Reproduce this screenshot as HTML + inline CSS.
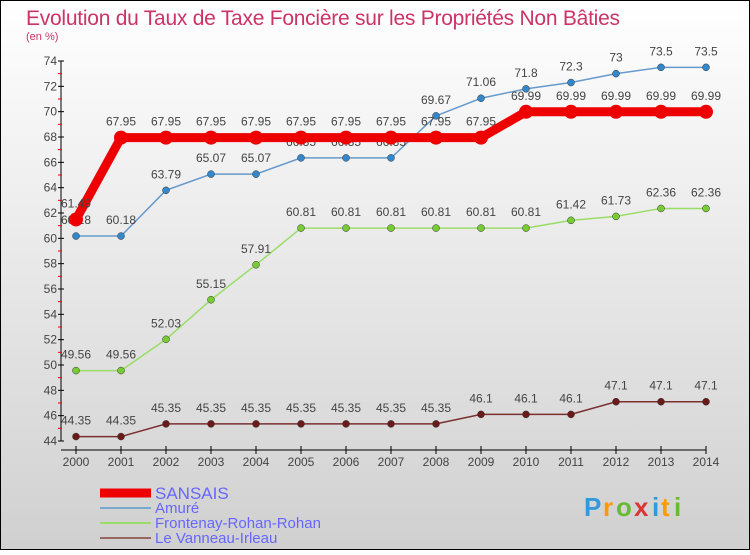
<!DOCTYPE html>
<html><head><meta charset="utf-8"><style>
body{margin:0}
#c{width:750px;height:550px;position:relative;font-family:"Liberation Sans",sans-serif;}
svg text{font-family:"Liberation Sans",sans-serif;}
</style></head><body>
<div id="c">
<svg id="s" width="750" height="550" xmlns="http://www.w3.org/2000/svg">
<defs><linearGradient id="bg" x1="0" y1="0" x2="0" y2="1"><stop offset="0" stop-color="#ffffff"/><stop offset="1" stop-color="#d0d0d0"/></linearGradient></defs>
<rect x="0.5" y="0.5" width="749" height="549" fill="url(#bg)" stroke="#000"/>
<text x="26" y="25" font-size="21" fill="#cc3366" textLength="594">Evolution du Taux de Taxe Foncière sur les Propriétés Non Bâties</text>
<text x="26" y="40" font-size="11" fill="#cc3366">(en %)</text>
<g id="axes"></g><g id="series"></g><g id="legend"></g>
<g font-size="26" font-weight="bold">
<text x="584" y="516" fill="#3399dd">P</text><text x="603" y="516" fill="#ff9900">r</text><text x="616" y="516" fill="#66bb33">o</text><text x="634" y="516" fill="#dd3333">x</text><text x="652" y="516" fill="#3399dd">i</text><text x="661" y="516" fill="#ff9900">t</text><text x="674" y="516" fill="#66bb33">i</text>
</g>
</svg></div>
<script>
const years=[2000,2001,2002,2003,2004,2005,2006,2007,2008,2009,2010,2011,2012,2013,2014];
const yTicks=[44,46,48,50,52,54,56,58,60,62,64,66,68,70,72,74];
const sansais=[61.49,67.95,67.95,67.95,67.95,67.95,67.95,67.95,67.95,67.95,69.99,69.99,69.99,69.99,69.99];
const amure=[60.18,60.18,63.79,65.07,65.07,66.35,66.35,66.35,69.67,71.06,71.8,72.3,73,73.5,73.5];
const frontenay=[49.56,49.56,52.03,55.15,57.91,60.81,60.81,60.81,60.81,60.81,60.81,61.42,61.73,62.36,62.36];
const vanneau=[44.35,44.35,45.35,45.35,45.35,45.35,45.35,45.35,45.35,46.1,46.1,46.1,47.1,47.1,47.1];
const NS="http://www.w3.org/2000/svg";
const X=i=>76+i*45, Y=v=>441-(v-44)*(380/30);
function mk(p,t,a){const e=document.createElementNS(NS,t);for(const k in a)e.setAttribute(k,a[k]);p.appendChild(e);return e;}
const ax=document.getElementById('axes');
let e=mk(ax,'line',{x1:61,y1:Y(74),x2:61,y2:Y(44),stroke:'#000'});


e=mk(ax,'line',{x1:61,y1:450,x2:706,y2:450,stroke:'#000'});


yTicks.forEach(v=>{
 mk(ax,'line',{x1:58,y1:Y(v),x2:64,y2:Y(v),stroke:'#000'});
 if(v<74) mk(ax,'line',{x1:58,y1:Y(v+1),x2:62,y2:Y(v+1),stroke:'#e00'});
 const t=mk(ax,'text',{x:57,y:Y(v)+4,'text-anchor':'end','font-size':12,fill:'#444'});t.textContent=v;
 
 
});
years.forEach((y,i)=>{
 mk(ax,'line',{x1:X(i),y1:446,x2:X(i),y2:454,stroke:'#000'});
 const t=mk(ax,'text',{x:X(i),y:466,'text-anchor':'middle','font-size':12,fill:'#444'});t.textContent=y;
 
 
});
const S=document.getElementById('series');
const defs=[[vanneau,'#7a2f2f','#6b1a1a',1.5,3.5,'le-vanneau-irleau'],[frontenay,'#99dd66','#77cc33',1.5,3.5,'frontenay-rohan-rohan'],[amure,'#6699cc','#3388cc',1.5,3.5,'amure'],[sansais,'#ee0000','#ee0000',9,7,'sansais']];
defs.forEach(([d,lc,pc,w,r,n])=>{
 const g=mk(S,'g',{});
 
 
 const pl=mk(g,'polyline',{points:d.map((v,i)=>X(i)+','+Y(v)).join(' '),fill:'none',stroke:lc,'stroke-width':w});
 
 
 d.forEach((v,i)=>{
  const c=mk(g,'circle',{cx:X(i),cy:Y(v),r:r,fill:pc,stroke:w>2?'none':'#333','stroke-width':0.5});
  
  
  const t=mk(g,'text',{x:X(i),y:Y(v)-12,'text-anchor':'middle','font-size':12,fill:'#444'});t.textContent=v;
  
  
 });
});
const L=document.getElementById('legend');
[['SANSAIS','#ee0000',9],['Amuré','#77aacc',2],['Frontenay-Rohan-Rohan','#99dd66',2],['Le Vanneau-Irleau','#996666',2]].forEach(([n,c,w],i)=>{
 const y=[493,508,523,538][i];
 const g=mk(L,'g',{});
 
 
 mk(g,'line',{x1:100,y1:y,x2:151,y2:y,stroke:c,'stroke-width':w});
 const t=mk(g,'text',{x:155,y:y+(i==0?6:5),'font-size':i==0?17:15,fill:'#6666ff'});t.textContent=n;
});
</script>
</body></html>
